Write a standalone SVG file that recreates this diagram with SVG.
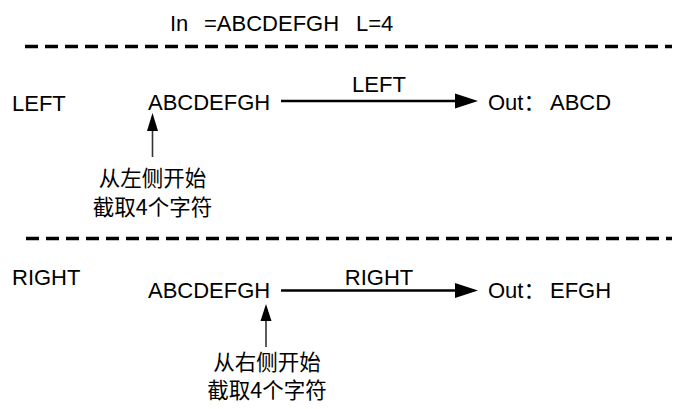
<svg xmlns="http://www.w3.org/2000/svg" width="674" height="409" viewBox="0 0 674 409">
<defs>
<style>
.t{font-family:"Liberation Sans",Arial,"Noto Sans CJK SC",sans-serif;font-size:22px;fill:#000}
.c{font-family:"Noto Sans CJK SC","Liberation Sans",sans-serif;font-size:21.5px;fill:#000;text-anchor:middle}
.m{text-anchor:middle}
.dash{stroke:#000;stroke-width:3.5;stroke-dasharray:13 7;fill:none}
.h{stroke:#000;stroke-width:2.4;fill:none}
.v{stroke:#333;stroke-width:1.6;fill:none}
</style>
</defs>
<rect width="674" height="409" fill="#fff"/>
<g id="header">
<text class="t" x="170" y="31" font-size="21">In <tspan x="204">=ABCDEFGH</tspan><tspan x="356">L=4</tspan></text>
</g>
<g id="separators">
<line class="dash" x1="25" y1="46.5" x2="672" y2="46.5"/>
<line class="dash" x1="26" y1="238.5" x2="672" y2="238.5"/>
</g>
<g id="left-section">
<text class="t" x="12" y="110.5">LEFT</text>
<g id="left-input"><text class="t" x="148" y="109.5">ABCDEFGH</text></g>
<g id="left-output"><text class="t" x="488" y="109.5">Out<tspan font-family="Noto Sans CJK SC">：</tspan><tspan x="550">ABCD</tspan></text></g>
<g id="left-note"><text class="c" x="152.5" y="185.5">从左侧开始</text><text class="c" x="152.5" y="215">截取4个字符</text></g>
</g>
<g id="right-section">
<text class="t" x="12" y="285">RIGHT</text>
<g id="right-input"><text class="t" x="148" y="297.5">ABCDEFGH</text></g>
<g id="right-output"><text class="t" x="488" y="297.5">Out<tspan font-family="Noto Sans CJK SC">：</tspan><tspan x="550">EFGH</tspan></text></g>
<g id="right-note"><text class="c" x="267" y="370">从右侧开始</text><text class="c" x="267" y="398">截取4个字符</text></g>
</g>
<g id="connectors">
<line class="h" x1="281" y1="101" x2="456" y2="101"/>
<polygon points="455,93.5 478,101 455,108.5"/>
<text class="t m" x="379" y="91.5">LEFT</text>
<line class="h" x1="281" y1="290.5" x2="456" y2="290.5"/>
<polygon points="455,283 478,290.5 455,298"/>
<text class="t m" x="379" y="284.5">RIGHT</text>
<line class="v" x1="152.5" y1="128" x2="152.5" y2="157"/>
<polygon points="147,131 152.5,113 158,131"/>
<line class="v" x1="266" y1="318" x2="266" y2="347"/>
<polygon points="260.5,321 266,304 271.5,321"/>
</g>
</svg>
